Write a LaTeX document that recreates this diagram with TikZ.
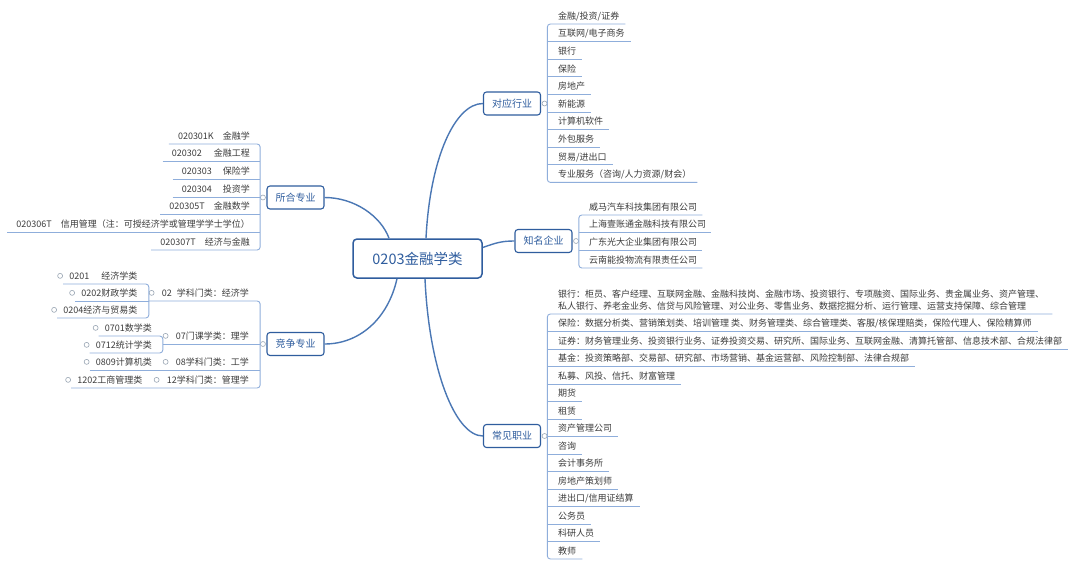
\documentclass[tikz,border=0pt]{standalone}
\usepackage{fontspec}
\setmainfont{Noto Sans CJK SC}
\usetikzlibrary{positioning,calc}

\definecolor{linkblue}{HTML}{4A77B4}
\definecolor{topicblue}{HTML}{2F5D9E}
\definecolor{ulblue}{HTML}{8FAEDB}
\definecolor{leafgray}{HTML}{3C3C3C}
\definecolor{knobgray}{HTML}{9AA6B4}

\tikzset{
  rootnode/.style={draw=topicblue, line width=1.5pt, rounded corners=4pt, text=topicblue,
    minimum width=129pt, minimum height=39pt, font=\fontsize{14.5}{16}\selectfont},
  topic/.style={draw=topicblue, line width=1.1pt, rounded corners=3pt, text=topicblue,
    minimum width=57pt, minimum height=23pt, inner sep=0pt, font=\fontsize{10}{12}\selectfont},
  leaf/.style={inner sep=0pt, text height=11.4pt, text depth=4.5pt, text=leafgray,
    font=\fontsize{9}{12}\selectfont},
  branch/.style={draw=linkblue, line width=1.4pt},
  uline/.style={draw=ulblue, line width=0.9pt, rounded corners=3pt},
  knob/.style={circle, draw=knobgray, fill=white, line width=0.6pt, inner sep=0pt, minimum size=5pt},
}

\begin{document}
\begin{tikzpicture}[x=1pt, y=-1pt]
  \useasboundingbox[fill=white] (0,0) rectangle (1080,568);

  % Central topic
  \node[rootnode] (root) at (417.5,258.5) {0203金融学类};

  % Main topics
  \node[topic] (ind) at (512,103.5) {对应行业};
  \node[topic] (corp) at (543.5,241) {知名企业};
  \node[topic] (job) at (512,436) {常见职业};
  \node[topic] (maj) at (295.5,197.5) {所合专业};
  \node[topic] (comp) at (295.5,344) {竞争专业};

  % Branches
  \draw[branch] ($(root.north)+(-28.5,0)$) .. controls +(-8,-22) and +(30,0) .. (maj.east);
  \draw[branch] ($(root.south)+(-20.5,0)$) .. controls +(-9,40) and +(35,0) .. (comp.east);
  \draw[branch] ($(root.north)+(8.5,0)$) .. controls +(4,-80) and +(-28,0) .. (ind.west);
  \draw[branch] ($(root.east)+(0,-11)$) .. controls +(14,-5) and +(-12,0) .. (corp.west);
  \draw[branch] ($(root.south)+(7.5,0)$) .. controls +(4,90) and +(-28,0) .. (job.west);

  % Knobs
  \node[knob] (ind-k) at ($(ind.east)+(3.5,0)$) {};
  \node[knob] (corp-k) at ($(corp.east)+(3.5,0)$) {};
  \node[knob] (job-k) at ($(job.east)+(3.5,0)$) {};
  \node[knob] (maj-k) at ($(maj.west)+(-3.5,0)$) {};
  \node[knob] (comp-k) at ($(comp.west)+(-3.5,0)$) {};

  % Industries
  \foreach \txt [count=\i from 0] in {金融/投资/证券, 互联网/电子商务, 银行, 保险, 房地产, 新能源,
      计算机软件, 外包服务, 贸易/进出口, 专业服务（咨询/人力资源/财会）}
    \node[leaf, anchor=south west] (ind\i) at (558,{24+17.6*\i}) {\txt};
  \draw[uline] ($(ind0.south east)+(6,0)$) -- (ind-k.east |- ind0.south)
    -- (ind-k.east |- ind9.south) -- ($(ind9.south east)+(6,0)$);
  \foreach \i in {1,...,8}
    \draw[uline] (ind-k.east |- ind\i.south) -- ($(ind\i.south east)+(6,0)$);

  % Companies
  \foreach \txt [count=\i from 0] in {威马汽车科技集团有限公司, 上海壹账通金融科技有限公司,
      广东光大企业集团有限公司, 云南能投物流有限责任公司}
    \node[leaf, anchor=south west] (corp\i) at (589,{215+17.67*\i}) {\txt};
  \draw[uline] ($(corp0.south east)+(5,0)$) -- (corp-k.east |- corp0.south)
    -- (corp-k.east |- corp3.south) -- ($(corp3.south east)+(5,0)$);
  \foreach \i in {1,2}
    \draw[uline] (corp-k.east |- corp\i.south) -- ($(corp\i.south east)+(5,0)$);

  % Careers
  \node[leaf, anchor=south west, align=left, text height=23.4pt] (job0) at (558,314)
    {银行：柜员、客户经理、互联网金融、金融科技岗、金融市场、投资银行、专项融资、国际业务、贵金属业务、资产管理、\\
     私人银行、养老金业务、信贷与风险管理、对公业务、零售业务、数据挖掘分析、运行管理、运营支持保障、综合管理};
  \foreach \txt [count=\i from 1] in {保险：数据分析类、营销策划类、培训管理 类、财务管理类、综合管理类、客服/核保理赔类，保险代理人、保险精算师,
      证券：财务管理业务、投资银行业务、证券投资交易、研究所、国际业务、互联网金融、清算托管部、信息技术部、合规法律部,
      基金：投资策略部、交易部、研究部、市场营销、基金运营部、风险控制部、法律合规部,
      私募、风投、信托、财富管理, 期货, 租赁, 资产管理公司, 咨询, 会计事务所, 房地产策划师,
      进出口/信用证结算, 公务员, 科研人员, 教师}
    \node[leaf, anchor=south west] (job\i) at (558,{314+17.5*\i}) {\txt};
  \draw[uline] ($(job0.south east)+(8,0)$) -- (job-k.east |- job0.south)
    -- (job-k.east |- job14.south) -- ($(job14.south east)+(6,0)$);
  \foreach \i in {1,...,13}
    \draw[uline] (job-k.east |- job\i.south) -- ($(job\i.south east)+(6,0)$);

  % Majors
  \foreach \txt [count=\i from 0] in {020301K\hspace{9pt}金融学, 020302\hspace{12pt}金融工程,
      020303\hspace{11pt}保险学, 020304\hspace{11pt}投资学, 020305T\hspace{9pt}金融数学,
      020306T\hspace{9pt}信用管理（注：可授经济学或管理学学士学位）, 020307T\hspace{9pt}经济与金融}
    \node[leaf, anchor=south east] (maj\i) at (250,{144+17.67*\i}) {\txt};
  \draw[uline] ($(maj0.south west)+(-9,0)$) -- (maj-k.west |- maj0.south)
    -- (maj-k.west |- maj6.south) -- ($(maj6.south west)+(-9,0)$);
  \foreach \i in {1,...,5}
    \draw[uline] ($(maj\i.south west)+(-9,0)$) -- (maj-k.west |- maj\i.south);

  % Competing majors
  \foreach \nm/\u/\txt in {c02/301/02\hspace{5pt}学科门类：经济学, c07/344/07门课学类：理学,
      c08/370/08学科门类：工学, c12/388/12学科门类：管理学}{
    \node[leaf, anchor=south east] (\nm) at (249,\u) {\txt};
    \node[knob] (\nm-k) at ($(\nm.west)+(-10,0)$) {};
  }
  \foreach \nm/\x/\u/\txt in {c0201/137.5/284/0201\hspace{12pt}经济学类, c0202/137.5/301/0202财政学类,
      c0204/137.5/318/0204经济与贸易类, c0701/152/336/0701数学类, c0712/152/353/0712统计学类,
      c0809/152/370/0809计算机类, c1202/142.5/388/1202工商管理类}{
    \node[leaf, anchor=south east] (\nm) at (\x,\u) {\txt};
    \node[knob] (\nm-k) at ($(\nm.west)+(-9,0)$) {};
  }
  \draw[uline] (c02-k.west |- c02.south) -- (comp-k.west |- c02.south)
    -- (comp-k.west |- c12.south) -- ($(c1202.south west)+(-6,0)$);
  \draw[uline] (c07-k.west |- c07.south) -- (comp-k.west |- c07.south);
  \draw[uline] ($(c0809.south west)+(-6,0)$) -- (comp-k.west |- c08.south);
  \draw[uline] ($(c0201.south west)+(-6,0)$) -- (c02-k.west |- c0201.south)
    -- (c02-k.west |- c0204.south) -- ($(c0204.south west)+(-6,0)$);
  \draw[uline] ($(c0202.south west)+(-6,0)$) -- (c02-k.west |- c0202.south);
  \draw[uline] ($(c0701.south west)+(-6,0)$) -- (c07-k.west |- c0701.south)
    -- (c07-k.west |- c0712.south) -- ($(c0712.south west)+(-6,0)$);
\end{tikzpicture}
\end{document}
